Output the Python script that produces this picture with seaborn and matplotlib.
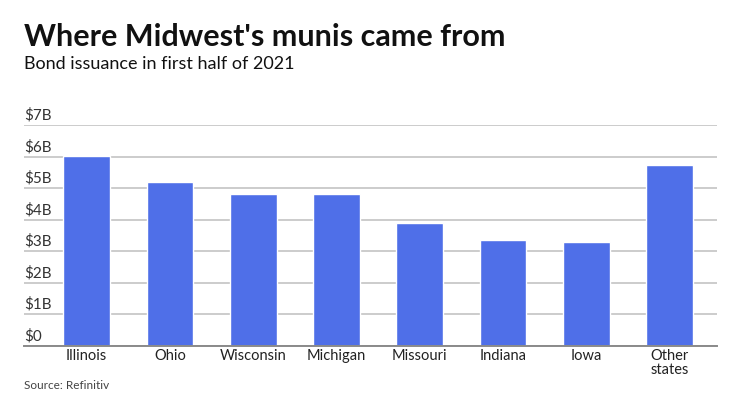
import matplotlib
matplotlib.use("Agg")
import matplotlib.pyplot as plt
import matplotlib.transforms as mtransforms
import seaborn as sns
import pandas as pd

states = ["Illinois", "Ohio", "Wisconsin", "Michigan", "Missouri", "Indiana", "Iowa", "Other\nstates"]
issuance_bn = [6.03, 5.18, 4.82, 4.80, 3.90, 3.35, 3.30, 5.73]
y_ticks = [0, 1, 2, 3, 4, 5, 6, 7]
y_labels = ["$0", "$1B", "$2B", "$3B", "$4B", "$5B", "$6B", "$7B"]

df = pd.DataFrame({"state": states, "value": issuance_bn})

sns.set_style("white")
plt.rcParams["font.family"] = ["Lato", "DejaVu Sans"]

fig = plt.figure(figsize=(7.4, 4.16), dpi=100)
ax = fig.add_axes([24 / 740, 1 - 346 / 416, (717 - 24) / 740, (346 - 125) / 416])

sns.barplot(data=df, x="state", y="value", color="#4f6fe8", saturation=1,
            width=0.56, ax=ax, zorder=3)

ax.set_ylim(0, 7)
ax.set_xlim(-0.753, 7.57)
ax.set_yticks(y_ticks)
ax.set_yticklabels([])
ax.tick_params(axis="y", length=0)
ax.yaxis.grid(True, color="#c4c4c4", linewidth=1.2, zorder=0)
ax.set_axisbelow(True)
for s in ["top", "right", "left"]:
    ax.spines[s].set_visible(False)
ax.spines["bottom"].set_color("#8a8a8a")
ax.spines["bottom"].set_linewidth(1.4)
ax.spines["bottom"].set_zorder(4)
ax.set_xlabel("")
ax.set_ylabel("")
ax.tick_params(axis="x", length=0, pad=2, labelsize=10.5, colors="#222222")
for t in ax.get_xticklabels():
    t.set_linespacing(1.05)
    t.set_verticalalignment("top")

trans = mtransforms.blended_transform_factory(ax.transAxes, ax.transData)
for v, lab in zip(y_ticks, y_labels):
    ax.text(0.0, v + 0.08, lab, transform=trans, ha="left", va="bottom",
            fontsize=11, color="#333333", clip_on=False)

fig.text(24 / 740, 1 - 46 / 416, "Where Midwest's munis came from", fontsize=22,
         fontweight="bold", color="#111111", ha="left", va="baseline")
fig.text(24 / 740, 1 - 69 / 416, "Bond issuance in first half of 2021", fontsize=13,
         color="#111111", ha="left", va="baseline")
fig.text(24 / 740, 1 - 389 / 416, "Source: Refinitiv", fontsize=8.5,
         color="#444444", ha="left", va="baseline")

fig.savefig("out.png", dpi=100)
